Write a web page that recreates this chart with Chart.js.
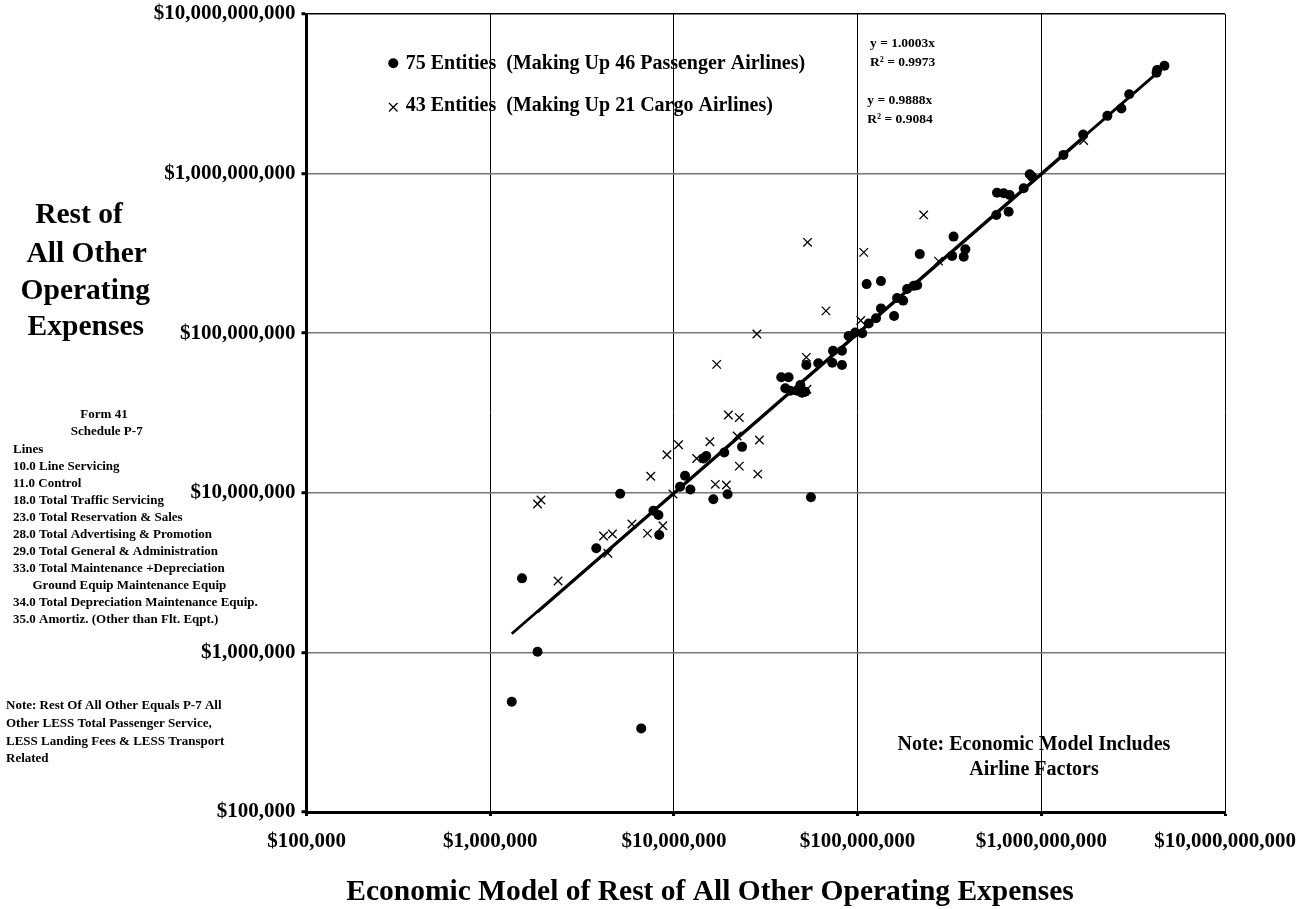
<!DOCTYPE html>
<html>
<head>
<meta charset="utf-8">
<script src="https://cdn.jsdelivr.net/npm/chart.js@4.4.1/dist/chart.umd.min.js"></script>
<style>
  html, body { margin: 0; padding: 0; background: #fff; }
  #wrap { width: 1314px; height: 909px; }
</style>
</head>
<body>
<div id="wrap"><canvas id="c" width="1314" height="909"></canvas></div>
<script>
// ---- Data ----
const axisTicks = [1e5, 1e6, 1e7, 1e8, 1e9, 1e10];

// 75 entities (46 passenger airlines): economic model (x) vs actual rest of other operating expenses (y)
const passengerX = [4.68e9,4.27e9,4.24e9,3.01e9,2.73e9,2.29e9,1.69e9,1.32e9,8.65e8,8.91e8,8.02e8,5.74e8,6.24e8,6.73e8,5.69e8,6.64e8,3.33e8,3.86e8,3.27e8,3.78e8,2.18e8,1.12e8,1.34e8,2.02e8,2.11e8,1.86e8,1.64e8,1.77e8,1.58e8,1.34e8,1.26e8,1.15e8,1.06e8,9.71e7,8.93e7,8.22e7,7.35e7,8.22e7,7.28e7,6.11e7,5.26e7,3.84e7,4.21e7,4.04e7,4.30e7,4.68e7,4.98e7,5.19e7,4.88e7,2.35e7,1.88e7,1.50e7,1.45e7,1.15e7,1.08e7,1.23e7,5.10e6,1.64e7,1.96e7,5.57e7,7.74e6,8.24e6,8.32e6,3.78e6,1.49e6,1.81e6,1.31e6,6.64e6];
const passengerY = [4.74e9,4.46e9,4.29e9,3.14e9,2.56e9,2.30e9,1.76e9,1.31e9,9.90e8,9.57e8,8.09e8,7.59e8,7.53e8,7.34e8,5.51e8,5.77e8,4.03e8,3.36e8,3.05e8,3.01e8,3.13e8,2.03e8,2.12e8,1.98e8,2.00e8,1.89e8,1.66e8,1.60e8,1.28e8,1.43e8,1.24e8,1.15e8,1.00e8,1.01e8,9.60e7,7.77e7,7.77e7,6.32e7,6.53e7,6.48e7,6.32e7,5.29e7,5.29e7,4.52e7,4.36e7,4.36e7,4.24e7,4.30e7,4.73e7,1.94e7,1.79e7,1.70e7,1.64e7,1.28e7,1.09e7,1.05e7,9.87e6,9.10e6,9.79e6,9.37e6,7.73e6,7.26e6,5.44e6,4.49e6,2.91e6,1.01e6,4.91e5,3.34e5];

// 43 entities (21 cargo airlines)
const cargoX = [1.81e6,1.89e6,2.34e6,4.14e6,4.63e6,4.37e6,5.91e6,7.18e6,8.71e6,7.48e6,9.16e6,1.06e7,9.88e6,1.33e7,1.57e7,1.68e7,1.93e7,1.98e7,2.27e7,2.21e7,2.27e7,2.86e7,2.92e7,1.71e7,2.83e7,5.26e7,5.30e7,5.34e7,6.73e7,1.04e8,1.08e8,2.29e8,2.76e8,1.70e9];
const cargoY = [8.51e6,9.02e6,2.80e6,5.36e6,5.52e6,4.18e6,6.38e6,5.57e6,6.22e6,1.27e7,1.73e7,2.00e7,9.83e6,1.64e7,2.09e7,1.13e7,1.12e7,3.07e7,2.96e7,2.27e7,1.47e7,1.31e7,2.14e7,6.38e7,9.89e7,7.06e7,4.45e7,3.71e8,1.38e8,1.20e8,3.21e8,5.51e8,2.83e8,1.61e9];

// Trend lines (end points): passenger y = 1.0003x, cargo y = 0.9888x
const passengerTrendX = [1.31e6, 4.68e9];
const passengerTrendY = [1.31e6, 4.68e9];
const cargoTrendX = [1.81e6, 1.70e9];
const cargoTrendY = [1.79e6, 1.68e9];

const legendLabels = ["75 Entities  (Making Up 46 Passenger Airlines)", "43 Entities  (Making Up 21 Cargo Airlines)"];
const equations = ["y = 1.0003x", "R\u00B2 = 0.9973", "y = 0.9888x", "R\u00B2 = 0.9084"];
const xTitle = "Economic Model of Rest of All Other Operating Expenses";
const yTitle = ["Rest of", "All Other", "Operating", "Expenses"];
const formLines = ["Lines", "10.0 Line Servicing", "11.0 Control", "18.0 Total Traffic Servicing", "23.0 Total Reservation & Sales", "28.0 Total Advertising & Promotion", "29.0 Total General & Administration", "33.0 Total Maintenance +Depreciation", "      Ground Equip Maintenance Equip", "34.0 Total Depreciation Maintenance Equip.", "35.0 Amortiz. (Other than Flt. Eqpt.)"];
const noteLines = ["Note: Rest Of All Other Equals P-7 All", "Other LESS Total Passenger Service,", "LESS Landing Fees & LESS Transport", "Related"];
const modelNote = ["Note: Economic Model Includes", "Airline Factors"];

// ---- helpers ----
const pts = (xs, ys) => xs.map((x, i) => ({ x: x, y: ys[i] }));
const money = v => '$' + Math.round(v).toLocaleString('en-US');
const SERIF = '"Liberation Serif", "Times New Roman", serif';

const textPlugin = {
  id: 'texts',
  afterDraw(chart) {
    const ctx = chart.ctx;
    ctx.save();
    ctx.fillStyle = '#000';
    ctx.strokeStyle = '#000';

    // legend inside plot
    ctx.beginPath();
    ctx.arc(393.3, 63.3, 5, 0, Math.PI * 2);
    ctx.fill();
    ctx.lineWidth = 1.3;
    ctx.beginPath();
    ctx.moveTo(389, 103); ctx.lineTo(397.5, 111.5);
    ctx.moveTo(397.5, 103); ctx.lineTo(389, 111.5);
    ctx.stroke();
    ctx.font = 'bold 20px ' + SERIF;
    ctx.textAlign = 'left';
    ctx.textBaseline = 'alphabetic';
    ctx.fillText(legendLabels[0], 405.7, 69);
    ctx.fillText(legendLabels[1], 405.7, 111);

    // equations
    ctx.font = 'bold 13.5px ' + SERIF;
    ctx.fillText(equations[0], 870, 46.7);
    ctx.fillText(equations[1], 870, 65.7);
    ctx.fillText(equations[2], 867.3, 104);
    ctx.fillText(equations[3], 867.3, 123.3);

    // model note bottom right
    ctx.font = 'bold 20px ' + SERIF;
    ctx.textAlign = 'center';
    ctx.fillText(modelNote[0], 1034, 750);
    ctx.fillText(modelNote[1], 1034, 775);

    // axis titles
    ctx.font = 'bold 29.5px ' + SERIF;
    ctx.fillText(xTitle, 710, 900);
    const yc = [79, 86.7, 85.3, 85.8];
    const yb = [223, 261.5, 298.5, 335];
    yTitle.forEach((t, i) => ctx.fillText(t, yc[i], yb[i]));

    // Form 41 block
    ctx.font = 'bold 13px ' + SERIF;
    ctx.textBaseline = 'middle';
    ctx.fillText("Form 41", 104, 415);
    ctx.fillText("Schedule P-7", 106.7, 432.1);
    ctx.textAlign = 'left';
    formLines.forEach((t, i) => ctx.fillText(t, 13, 449.2 + 17.08 * i));

    // note block
    noteLines.forEach((t, i) => ctx.fillText(t, 6, 706 + 17.7 * i));
    ctx.restore();
  }
};

const tickFont = { family: SERIF, size: 21, weight: 'bold' };

new Chart(document.getElementById('c'), {
  type: 'scatter',
  data: {
    datasets: [
      {
        type: 'line', label: 'Passenger trend', data: pts(passengerTrendX, passengerTrendY),
        borderColor: '#000', borderWidth: 2.8, pointRadius: 0, fill: false, order: 0
      },
      {
        type: 'line', label: 'Cargo trend', data: pts(cargoTrendX, cargoTrendY),
        borderColor: '#000', borderWidth: 2.8, pointRadius: 0, fill: false, order: 0
      },
      {
        label: legendLabels[0], data: pts(passengerX, passengerY),
        pointStyle: 'circle', pointRadius: 5, pointHoverRadius: 5,
        backgroundColor: '#000', borderColor: '#000', borderWidth: 0, order: 2
      },
      {
        label: legendLabels[1], data: pts(cargoX, cargoY),
        pointStyle: 'crossRot', pointRadius: 6, pointHoverRadius: 6,
        backgroundColor: '#000', borderColor: '#000', borderWidth: 1.3, order: 1
      }
    ]
  },
  options: {
    responsive: false,
    devicePixelRatio: 1,
    animation: false,
    events: [],
    layout: { padding: { left: 0, top: 14, right: 89, bottom: 0 } },
    plugins: { legend: { display: false }, tooltip: { enabled: false }, title: { display: false } },
    scales: {
      x: {
        type: 'logarithmic', min: 1e5, max: 1e10,
        afterBuildTicks: s => { s.ticks = axisTicks.map(v => ({ value: v })); },
        afterFit: s => { s.height = 97; s.paddingLeft = 0; s.paddingRight = 0; },
        ticks: { callback: v => money(v), font: tickFont, color: '#000', padding: 13, maxRotation: 0, autoSkip: false },
        grid: { color: '#000', lineWidth: 1, tickColor: '#000', tickWidth: 3, tickLength: 4, drawTicks: true },
        border: { display: true, color: '#000', width: 3 }
      },
      y: {
        type: 'logarithmic', min: 1e5, max: 1e10,
        afterBuildTicks: s => { s.ticks = axisTicks.map(v => ({ value: v })); },
        afterFit: s => { s.width = 306.5; s.paddingTop = 0; s.paddingBottom = 0; },
        ticks: { callback: v => money(v), font: tickFont, color: '#000', padding: 6, autoSkip: false },
        grid: {
          color: c => (c.tick && c.tick.value === 1e10) ? '#000' : '#777',
          lineWidth: 1.5,
          tickColor: '#000', tickWidth: 3, tickLength: 5, drawTicks: true
        },
        border: { display: true, color: '#000', width: 3 }
      }
    }
  },
  plugins: [textPlugin]
});
</script>
</body>
</html>
